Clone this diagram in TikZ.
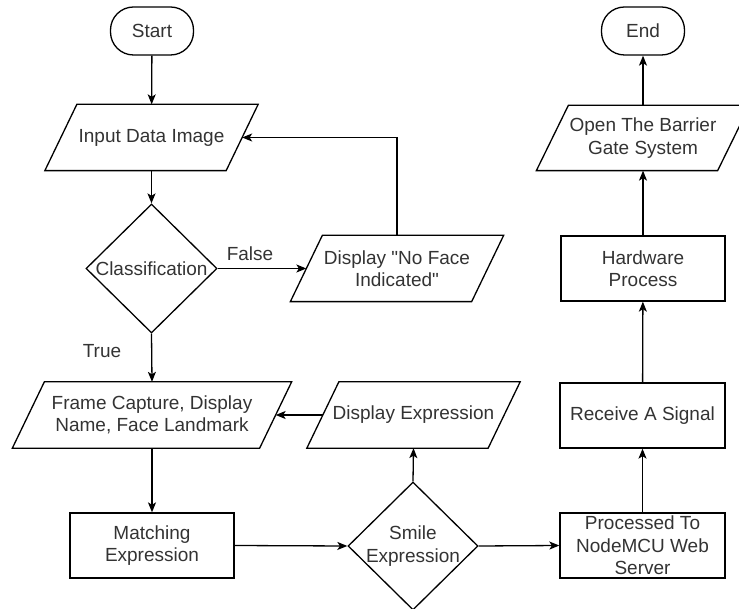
\documentclass[tikz,border=0pt]{standalone}
\usepackage{fontspec}
\setmainfont[Ligatures=TeXOff]{Liberation Sans}
\usetikzlibrary{arrows.meta,shapes.geometric}
\tikzset{
  base/.style={draw=none, inner sep=0pt, align=center, text=black!80, font=\fontsize{19pt}{22.5pt}\selectfont},
  term/.style={base, draw, rectangle, rounded corners=23pt, minimum width=83pt, minimum height=48pt},
  procbox/.style={base, draw, rectangle, minimum width=#1, minimum height=65pt},
  parabox/.style={base, rectangle, minimum width=#1, minimum height=65pt},
  decision/.style={base, draw, diamond, aspect=1},
  lbl/.style={base},
  arr/.style={-{Stealth[length=10pt,width=8pt,inset=2.5pt]}},
}
\newcommand{\drawpara}[1]{%
  \draw ([xshift=16pt]#1.north west) -- ([xshift=16pt]#1.north east) -- ([xshift=-16pt]#1.south east) -- ([xshift=-16pt]#1.south west) -- cycle;}
\begin{document}
\begin{tikzpicture}[x=1pt,y=-1pt,line width=1.3pt, line join=miter]
\useasboundingbox (0,0) rectangle (739,609);
% nodes
\node[term] (start) at (152,31) {Start};
\node[term] (end) at (643,31) {End};
\node[parabox=180pt] (input) at (151.5,137.5) {Input Data Image};
\node[decision, minimum width=131pt, minimum height=129pt] (class) at (151.5,268.5) {\makebox[0pt]{Classification}};
\node[parabox=180pt] (noface) at (397,268.5) {Display "No Face\\Indicated"};
\node[parabox=246pt] (frame) at (152,415) {Frame Capture, Display\\Name, Face Landmark};
\node[parabox=180pt] (dispexp) at (413.5,415) {Display Expression};
\node[procbox=164pt] (match) at (152,545.5) {Matching\\Expression};
\node[decision, minimum width=130pt, minimum height=128pt] (smile) at (413,546) {\makebox[0pt]{Smile}\\\makebox[0pt]{Expression}};
\node[procbox=165pt] (proc) at (642.5,545.5) {Processed To\\NodeMCU Web\\Server};
\node[procbox=165pt] (recv) at (642.5,415.5) {Receive A Signal};
\node[procbox=164pt] (hw) at (643,268.5) {Hardware\\Process};
\node[parabox=180pt, minimum height=64pt] (open) at (643,138) {Open The Barrier\\Gate System};
\drawpara{input}
\drawpara{noface}
\drawpara{frame}
\drawpara{dispexp}
\drawpara{open}
% labels
\node[lbl] (lfalse) at (250,254) {False};
\node[lbl] (ltrue) at (102,351) {True};
% connectors
\draw[arr] (start) -- (input);
\draw[arr] (input) -- (class);
\draw[arr] (class.east) -- (noface.west);
\draw[arr] (noface.north) |- (input.east);
\draw[arr] (class.south) -- (frame.north);
\draw[arr] (frame) -- (match);
\draw[arr] (match.east) -- (smile.west);
\draw[arr] (smile.north) -- (dispexp.south);
\draw[arr] (dispexp.west) -- (frame.east);
\draw[arr] (smile.east) -- (proc.west);
\draw[arr] (proc) -- (recv);
\draw[arr] (recv) -- (hw);
\draw[arr] (hw) -- (open);
\draw[arr] (open) -- (end);
\end{tikzpicture}
\end{document}
